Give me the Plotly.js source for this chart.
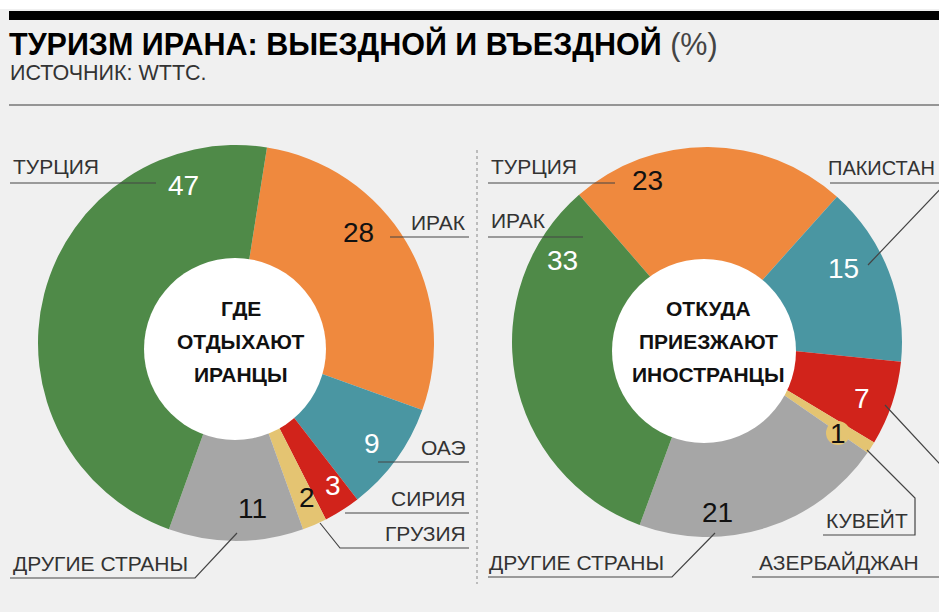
<!DOCTYPE html>
<html>
<head>
<meta charset="utf-8">
<script src="https://cdn.plot.ly/plotly-3.0.1.min.js"></script>
<style>html,body{margin:0;padding:0;background:#f0f0f0;}#chart{width:939px;height:612px;}</style>
</head>
<body>
<div id="chart"></div>
<script>
// ---- data ----
const leftCountries = ['ИРАК', 'ОАЭ', 'СИРИЯ', 'ГРУЗИЯ', 'ДРУГИЕ СТРАНЫ', 'ТУРЦИЯ'];
const leftValues = [28, 9, 3, 2, 11, 47];
const rightCountries = ['ТУРЦИЯ', 'ПАКИСТАН', 'АЗЕРБАЙДЖАН', 'КУВЕЙТ', 'ДРУГИЕ СТРАНЫ', 'ИРАК'];
const rightValues = [23, 15, 7, 1, 21, 33];
const leftCenterText = ['ГДЕ', 'ОТДЫХАЮТ', 'ИРАНЦЫ'];
const rightCenterText = ['ОТКУДА', 'ПРИЕЗЖАЮТ', 'ИНОСТРАНЦЫ'];
const titleText = 'ТУРИЗМ ИРАНА: ВЫЕЗДНОЙ И ВЪЕЗДНОЙ';
const titleUnit = '(%)';
const sourceText = 'ИСТОЧНИК: WTTC.';

// ---- styling ----
const W = 939, H = 612;
const X = px => px / W;
const Y = py => 1 - py / H;
const C = {orange: '#ef893e', teal: '#4a96a2', red: '#d1231b', yellow: '#e4c472', gray: '#a6a6a6', green: '#4f8a48'};
const sliceColors = [C.orange, C.teal, C.red, C.yellow, C.gray, C.green];
const FONT = 'Liberation Sans, Arial, Helvetica, sans-serif';
const lineColor = '#444';

function pie(values, labels, cx, cy, r, rot) {
  return {
    type: 'pie', values: values, labels: labels, sort: false, direction: 'clockwise',
    rotation: rot, hole: 0.4, textinfo: 'none', hoverinfo: 'skip', showlegend: false,
    marker: {colors: sliceColors, line: {width: 0}},
    domain: {x: [X(cx - r), X(cx + r)], y: [Y(cy + r), Y(cy - r)]}
  };
}
const data = [
  pie(leftValues, leftCountries, 236, 343, 198, 9),
  pie(rightValues, rightCountries, 707, 342, 195, -41)
];

function circle(cx, cy, r, fill) {
  return {type: 'circle', xref: 'paper', yref: 'paper', layer: 'above',
    x0: X(cx - r), x1: X(cx + r), y0: Y(cy + r), y1: Y(cy - r),
    fillcolor: fill, line: {width: 0}};
}
function path(pts, extra) {
  const d = pts.map((p, i) => (i ? 'L' : 'M') + X(p[0]) + ',' + Y(p[1])).join(' ');
  return Object.assign({type: 'path', xref: 'paper', yref: 'paper', layer: 'above', path: d,
    line: {color: lineColor, width: 1.2}}, extra || {});
}

const shapes = [
  {type: 'rect', xref: 'paper', yref: 'paper', layer: 'below', x0: 0, x1: 1, y0: Y(9), y1: 1, fillcolor: '#ffffff', line: {width: 0}},
  {type: 'rect', xref: 'paper', yref: 'paper', layer: 'below', x0: X(9), x1: 1, y0: Y(20), y1: Y(11), fillcolor: '#000000', line: {width: 0}},
  path([[9, 105], [939, 105]], {line: {color: '#777', width: 1.5}}),
  path([[477, 150], [477, 584]], {line: {color: '#888', width: 1, dash: '3px,3px'}}),
  circle(235, 349, 91, '#ffffff'),
  circle(704, 351, 92, '#ffffff'),
  circle(838, 433, 12, C.yellow),
  // left leaders
  path([[10, 183], [156, 183]]),
  path([[390, 237], [469, 237]]),
  path([[378, 462], [469, 462]]),
  path([[345, 513], [469, 513]]),
  path([[320, 523], [340, 548], [469, 548]]),
  path([[10, 578], [195, 578], [237, 533]]),
  // right leaders
  path([[488, 183], [615, 183]]),
  path([[488, 237], [583, 237]]),
  path([[830, 183], [946, 183], [868, 265]]),
  path([[885, 405], [1045, 577], [752, 577]]),
  path([[867, 450], [915, 498], [915, 535], [823, 535]]),
  path([[488, 577], [672, 577], [715, 533]])
];

const annotations = [];
function ann(text, px, py, opts) {
  annotations.push(Object.assign({text: text, x: X(px), y: Y(py), xref: 'paper', yref: 'paper',
    showarrow: false, xanchor: 'center', yanchor: 'middle',
    font: {family: FONT, size: 21, color: '#333'}}, opts || {}));
}
// title and source
ann('<b>' + titleText + '</b> <span style="color:#444">' + titleUnit + '</span>', 7, 44,
  {xanchor: 'left', font: {family: FONT, size: 30.5, color: '#000'}});
ann(sourceText, 8, 73, {xanchor: 'left', font: {family: FONT, size: 21.5, color: '#333'}});

// value labels
const leftNumPos = [[358, 232, '#111'], [372, 443, '#fff'], [333, 485, '#fff'], [307, 497, '#111'], [252, 508, '#111'], [183, 185, '#fff']];
const rightNumPos = [[647, 180, '#111'], [843, 268, '#fff'], [862, 398, '#fff'], [838, 433, '#111'], [717, 512, '#111'], [562, 260, '#fff']];
leftValues.forEach((v, i) => ann(String(v), leftNumPos[i][0], leftNumPos[i][1], {font: {family: FONT, size: 28, color: leftNumPos[i][2]}}));
rightValues.forEach((v, i) => ann(String(v), rightNumPos[i][0], rightNumPos[i][1], {font: {family: FONT, size: 28, color: rightNumPos[i][2]}}));

// country labels
const leftLabPos = [[468, 222, 'right'], [468, 448, 'right'], [468, 498, 'right'], [468, 533, 'right'], [11, 563, 'left'], [11, 167, 'left']];
const rightLabPos = [[489, 167, 'left'], [826, 168, 'left'], [757, 562, 'left'], [824, 520, 'left'], [487, 562, 'left'], [489, 220, 'left']];
leftCountries.forEach((c, i) => ann(c, leftLabPos[i][0], leftLabPos[i][1], {xanchor: leftLabPos[i][2]}));
rightCountries.forEach((c, i) => {
  const o = {xanchor: rightLabPos[i][2]};
  if (c === 'ПАКИСТАН') o.font = {family: FONT, size: 20, color: '#333'};
  ann(c, rightLabPos[i][0], rightLabPos[i][1], o);
});

// center texts
const centerYs = [308, 341, 374];
leftCenterText.forEach((t, i) => ann('<b>' + t + '</b>', 241, centerYs[i], {font: {family: FONT, size: 21, color: '#111'}}));
rightCenterText.forEach((t, i) => ann('<b>' + t + '</b>', 708, centerYs[i], {font: {family: FONT, size: 21, color: '#111'}}));

const layout = {
  width: W, height: H, margin: {l: 0, r: 0, t: 0, b: 0},
  paper_bgcolor: '#f0f0f0', plot_bgcolor: '#f0f0f0',
  showlegend: false, shapes: shapes, annotations: annotations
};
Plotly.newPlot('chart', data, layout, {displayModeBar: false, staticPlot: true});
</script>
</body>
</html>
